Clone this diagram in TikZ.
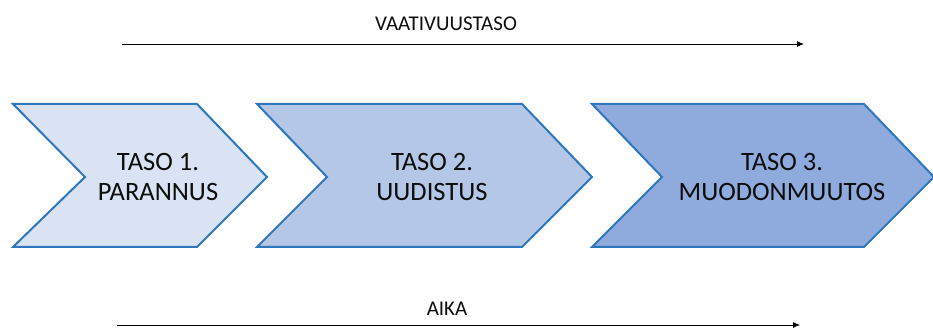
\documentclass[tikz,border=0pt]{standalone}
\usepackage{fontspec}
\setmainfont{Carlito}
\usetikzlibrary{arrows.meta}
\definecolor{edge}{HTML}{2E77BC}
\definecolor{fillA}{HTML}{DAE3F3}
\definecolor{fillB}{HTML}{B4C7E7}
\definecolor{fillC}{HTML}{8FAADC}
\tikzset{
  chev/.style={draw=edge, line width=2pt, line join=miter},
  lab/.style={font=\fontsize{26.5}{30}\selectfont, align=center, text=black!95},
  axis/.style={draw=black, line width=0.9pt, -{Latex[length=7pt,width=6pt]}},
  axlab/.style={font=\fontsize{21}{24}\selectfont, text=black!95}
}
\begin{document}
\begin{tikzpicture}[x=1pt,y=-1pt]
\useasboundingbox (0,0) rectangle (933,328);
\fill[white] (0,0) rectangle (933,328);
% chevrons
\path[chev, fill=fillA] (13,104) -- (197,104) -- (267,177) -- (197,247) -- (13,247) -- (85,177) -- cycle;
\path[chev, fill=fillB] (257,104) -- (522,104) -- (592,177) -- (522,247) -- (257,247) -- (327,177) -- cycle;
\path[chev, fill=fillC] (592,104) -- (864,104) -- (934,177) -- (864,247) -- (592,247) -- (662,177) -- cycle;
% labels
\node[lab] (t1) at (158,177) {TASO 1.\\PARANNUS};
\node[lab] (t2) at (432,177) {TASO 2.\\UUDISTUS};
\node[lab] (t3) at (782,177) {TASO 3.\\MUODONMUUTOS};
% axes
\coordinate (a1) at (122,44);
\coordinate (a2) at (804,44);
\draw[axis] (a1) -- (a2);
\node[axlab] (va) at (446,24) {VAATIVUUSTASO};
\coordinate (b1) at (117,325);
\coordinate (b2) at (800,325);
\draw[axis] (b1) -- (b2);
\node[axlab] (ai) at (447,309) {AIKA};
\end{tikzpicture}
\end{document}
